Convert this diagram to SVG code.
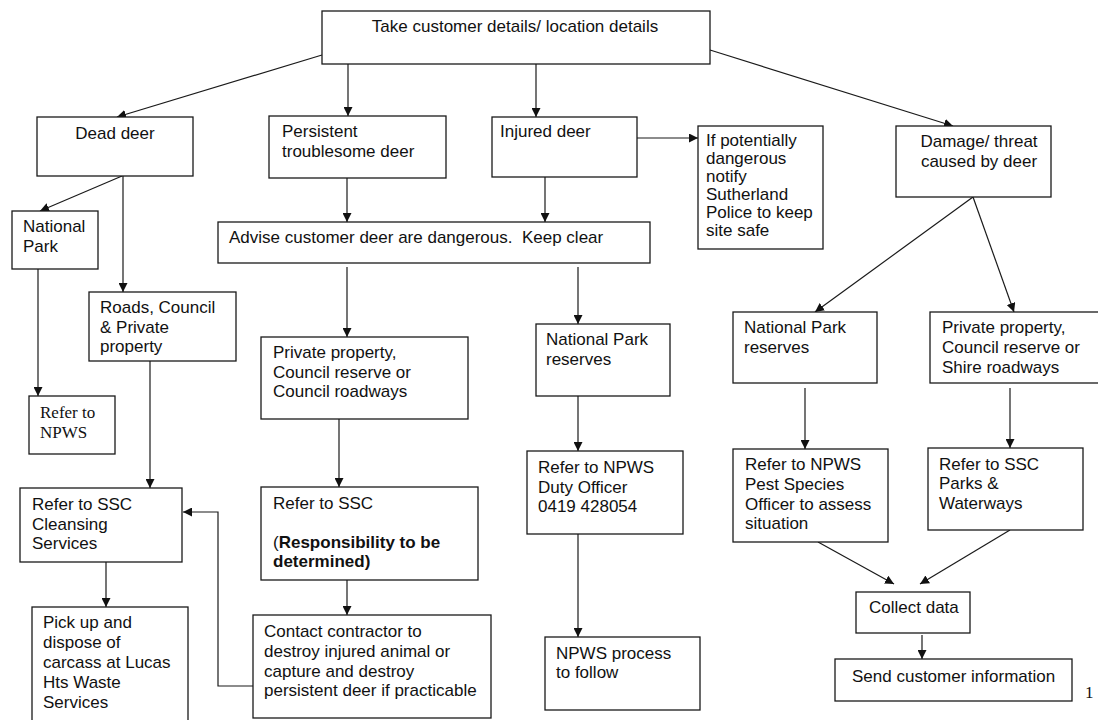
<svg xmlns="http://www.w3.org/2000/svg" width="1098" height="720" viewBox="0 0 1098 720">
<style>
.b{fill:#fff;stroke:#1a1a1a;stroke-width:1.3}
.t{font-family:"Liberation Sans",Arial,sans-serif;font-size:17px;fill:#111}
.s{font-family:"Liberation Serif","Times New Roman",serif;font-size:17px;fill:#111}
.bold{font-weight:bold}
.c{fill:none;stroke:#1a1a1a;stroke-width:1.2}
</style>
<defs>
<marker id="ah" viewBox="0 0 10 10" refX="10" refY="5" markerWidth="9" markerHeight="9" markerUnits="userSpaceOnUse" orient="auto">
<path d="M0,0 L10,5 L0,10 z" fill="#111"/>
</marker>
</defs>
<rect width="1098" height="720" fill="#fff"/>
<g id="connectors" class="c" marker-end="url(#ah)">
<path class="c" marker-end="url(#ah)" d="M322,55 L117,117"/>
<path class="c" marker-end="url(#ah)" d="M348,64 V116"/>
<path class="c" marker-end="url(#ah)" d="M536,64 V117"/>
<path class="c" marker-end="url(#ah)" d="M710,50 L953,126"/>
<path class="c" marker-end="url(#ah)" d="M637,138 H698"/>
<path class="c" marker-end="url(#ah)" d="M347,178 V222"/>
<path class="c" marker-end="url(#ah)" d="M545,177 V222"/>
<path class="c" marker-end="url(#ah)" d="M122,176 L40,211"/>
<path class="c" marker-end="url(#ah)" d="M123,176 V292"/>
<path class="c" marker-end="url(#ah)" d="M38,269 V396"/>
<path class="c" marker-end="url(#ah)" d="M150,361 V488"/>
<path class="c" marker-end="url(#ah)" d="M347,267 V337"/>
<path class="c" marker-end="url(#ah)" d="M578,267 V324"/>
<path class="c" marker-end="url(#ah)" d="M339,419 V487"/>
<path class="c" marker-end="url(#ah)" d="M347,580 V615"/>
<path class="c" marker-end="url(#ah)" d="M253,686 H218 V512 H183"/>
<path class="c" marker-end="url(#ah)" d="M106,562 V607"/>
<path class="c" marker-end="url(#ah)" d="M578,396 V451"/>
<path class="c" marker-end="url(#ah)" d="M578,534 V637"/>
<path class="c" marker-end="url(#ah)" d="M973,197 L815,312"/>
<path class="c" marker-end="url(#ah)" d="M973,197 L1014,312"/>
<path class="c" marker-end="url(#ah)" d="M805,388 V449"/>
<path class="c" marker-end="url(#ah)" d="M1010,388 V448"/>
<path class="c" marker-end="url(#ah)" d="M818,542 L894,584"/>
<path class="c" marker-end="url(#ah)" d="M1010,530 L920,584"/>
<path class="c" marker-end="url(#ah)" d="M922,635 V659"/>
</g>
<g id="n-top"><rect class="b" x="322" y="11" width="388" height="53"/><text class="t" x="515" y="32" text-anchor="middle">Take customer details/ location details</text></g>
<g id="n-dead"><rect class="b" x="37" y="117" width="156" height="59"/><text class="t" x="115" y="139" text-anchor="middle">Dead deer</text></g>
<g id="n-persistent"><rect class="b" x="269" y="116" width="177" height="62"/><text class="t" x="282" y="137">Persistent</text><text class="t" x="282" y="157">troublesome deer</text></g>
<g id="n-injured"><rect class="b" x="492" y="117" width="145" height="60"/><text class="t" x="500" y="137">Injured deer</text></g>
<g id="n-danger"><rect class="b" x="698" y="126" width="125" height="123"/>
<text class="t" x="706" y="146">If potentially</text><text class="t" x="706" y="164">dangerous</text><text class="t" x="706" y="182">notify</text><text class="t" x="706" y="200">Sutherland</text><text class="t" x="706" y="218">Police to keep</text><text class="t" x="706" y="236">site safe</text></g>
<g id="n-damage"><rect class="b" x="896" y="126" width="155" height="71"/><text class="t" x="979" y="147" text-anchor="middle">Damage/ threat</text><text class="t" x="979" y="167" text-anchor="middle">caused by deer</text></g>
<g id="n-np-left"><rect class="b" x="12" y="211" width="86" height="58"/><text class="t" x="23" y="232">National</text><text class="t" x="23" y="252">Park</text></g>
<g id="n-advise"><rect class="b" x="218" y="222" width="432" height="41"/><text class="t" x="229" y="243">Advise customer deer are dangerous.&#160; Keep clear</text></g>
<g id="n-roads"><rect class="b" x="89" y="292" width="147" height="69"/><text class="t" x="100" y="313">Roads, Council</text><text class="t" x="100" y="333">&amp; Private</text><text class="t" x="100" y="352">property</text></g>
<g id="n-private-mid"><rect class="b" x="261" y="337" width="207" height="82"/><text class="t" x="273" y="358">Private property,</text><text class="t" x="273" y="378">Council reserve or</text><text class="t" x="273" y="397">Council roadways</text></g>
<g id="n-np-mid"><rect class="b" x="536" y="324" width="134" height="72"/><text class="t" x="546" y="345">National Park</text><text class="t" x="546" y="365">reserves</text></g>
<g id="n-np-right"><rect class="b" x="733" y="312" width="144" height="71"/><text class="t" x="744" y="333">National Park</text><text class="t" x="744" y="353">reserves</text></g>
<g id="n-private-right"><rect class="b" x="930" y="312" width="170" height="71"/><text class="t" x="942" y="333">Private property,</text><text class="t" x="942" y="353">Council reserve or</text><text class="t" x="942" y="373">Shire roadways</text></g>
<g id="n-refer-npws"><rect class="b" x="29" y="396" width="86" height="58"/><text class="s" x="40" y="418">Refer to</text><text class="s" x="40" y="438">NPWS</text></g>
<g id="n-duty"><rect class="b" x="527" y="451" width="156" height="83"/><text class="t" x="538" y="473">Refer to NPWS</text><text class="t" x="538" y="493">Duty Officer</text><text class="t" x="538" y="512">0419 428054</text></g>
<g id="n-pest"><rect class="b" x="733" y="449" width="155" height="93"/><text class="t" x="745" y="470">Refer to NPWS</text><text class="t" x="745" y="490">Pest Species</text><text class="t" x="745" y="510">Officer to assess</text><text class="t" x="745" y="529">situation</text></g>
<g id="n-parks"><rect class="b" x="928" y="448" width="155" height="82"/><text class="t" x="939" y="470">Refer to SSC</text><text class="t" x="939" y="489">Parks &amp;</text><text class="t" x="939" y="509">Waterways</text></g>
<g id="n-cleansing"><rect class="b" x="20" y="488" width="162" height="74"/><text class="t" x="32" y="510">Refer to SSC</text><text class="t" x="32" y="530">Cleansing</text><text class="t" x="32" y="549">Services</text></g>
<g id="n-refer-ssc"><rect class="b" x="261" y="487" width="217" height="93"/><text class="t" x="273" y="509">Refer to SSC</text><text class="t" x="273" y="548">(<tspan class="bold">Responsibility to be</tspan></text><text class="t bold" x="273" y="567">determined)</text></g>
<g id="n-collect"><rect class="b" x="856" y="592" width="114" height="41"/><text class="t" x="869" y="613">Collect data</text></g>
<g id="n-pickup"><rect class="b" x="32" y="607" width="156" height="120"/><text class="t" x="43" y="628">Pick up and</text><text class="t" x="43" y="648">dispose of</text><text class="t" x="43" y="668">carcass at Lucas</text><text class="t" x="43" y="688">Hts Waste</text><text class="t" x="43" y="708">Services</text></g>
<g id="n-contact"><rect class="b" x="253" y="615" width="238" height="103"/><text class="t" x="264" y="637">Contact contractor to</text><text class="t" x="264" y="657">destroy injured animal or</text><text class="t" x="264" y="677">capture and destroy</text><text class="t" x="264" y="696">persistent deer if practicable</text></g>
<g id="n-npws-process"><rect class="b" x="545" y="637" width="155" height="73"/><text class="t" x="556" y="659">NPWS process</text><text class="t" x="556" y="678">to follow</text></g>
<g id="n-send"><rect class="b" x="835" y="659" width="237" height="42"/><text class="t" x="852" y="682">Send customer information</text></g>
<text class="s" x="1085" y="698" font-size="16">1</text>
</svg>
